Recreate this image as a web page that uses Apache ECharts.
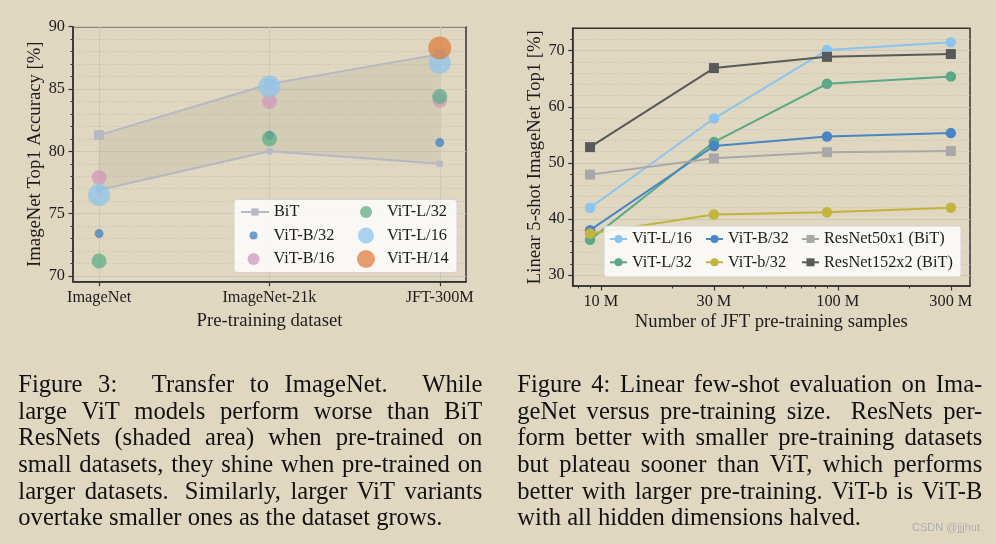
<!DOCTYPE html>
<html><head><meta charset="utf-8">
<script src="https://cdn.jsdelivr.net/npm/echarts@6.0.0/dist/echarts.min.js"></script>
<style>html,body{margin:0;padding:0;background:#dfd7bf;}#c{width:996px;height:544px;}</style>
</head><body><div id="c"></div><script>
// ---------- Figure 3 data ----------
const datasets = ['ImageNet', 'ImageNet-21k', 'JFT-300M'];
const bitUpper = [81.3, 85.4, 87.8];
const bitLower = [76.9, 80.0, 79.0];
const vitB32 = [73.4, 81.3, 80.7];
const vitB16 = [77.9, 84.0, 84.1];
const vitL32 = [71.2, 81.0, 84.4];
const vitL16 = [76.5, 85.2, 87.1];
const vitH14 = [null, null, 88.3];
const fig3YTicks = [70, 75, 80, 85, 90];
const fig3YMinor = [71, 72, 73, 74, 76, 77, 78, 79, 81, 82, 83, 84, 86, 87, 88, 89];

// ---------- Figure 4 data ----------
const samplesM = [9, 30, 90, 300];
const fig4XTicks = [10, 30, 100, 300];
const fig4XLabels = ['10 M', '30 M', '100 M', '300 M'];
const fig4XMinor = [8, 9, 20, 40, 50, 60, 70, 80, 90, 200];
const fig4YTicks = [30, 40, 50, 60, 70];
const fig4YMinor = [32, 34, 36, 38, 42, 44, 46, 48, 52, 54, 56, 58, 62, 64, 66, 68, 72];
const fsL16 = [42.0, 57.9, 70.1, 71.5];
const fsL32 = [36.3, 53.7, 64.1, 65.4];
const fsB32 = [38.0, 53.0, 54.7, 55.3];
const fsb32 = [37.4, 40.8, 41.2, 42.0];
const fsR50 = [47.9, 50.8, 51.9, 52.1];
const fsR152 = [52.8, 66.9, 68.9, 69.4];

// ---------- captions ----------
const caption3 = [
  'Figure 3:  Transfer to ImageNet.  While',
  'large ViT models perform worse than BiT',
  'ResNets (shaded area) when pre-trained on',
  'small datasets, they shine when pre-trained on',
  'larger datasets.  Similarly, larger ViT variants',
  'overtake smaller ones as the dataset grows.'
];
const caption4 = [
  'Figure 4: Linear few-shot evaluation on Ima-',
  'geNet versus pre-training size.  ResNets per-',
  'form better with smaller pre-training datasets',
  'but plateau sooner than ViT, which performs',
  'better with larger pre-training. ViT-b is ViT-B',
  'with all hidden dimensions halved.'
];

const FONT = "'Liberation Serif', 'Times New Roman', serif";
const TXT = '#1c1c1c';
const AX = '#333333';
const MAJ = '#cbc7b9';
const MIN = '#c6c0ab';
const SUFFIX = '\u200b4'; // keeps Figure 4 series names distinct from Figure 3 ones
const cleanName = n => n.split('\u200b')[0];

const catPts = arr => arr.map((v, i) => [i, v]).filter(p => p[1] != null);
const logPts = arr => arr.map((v, i) => [Math.log10(samplesM[i]), v]);

function axisBase(extra) {
  return Object.assign({
    type: 'value',
    axisLine: {show: true, onZero: false, lineStyle: {color: AX, width: 1.5}},
    axisTick: {show: true, inside: false, length: 4.5, lineStyle: {color: AX, width: 1.2}},
    axisLabel: {color: TXT, fontFamily: FONT, fontSize: 16.3, margin: 7},
    splitLine: {show: false},
    nameTextStyle: {color: TXT, fontFamily: FONT, fontSize: 18.7},
    nameLocation: 'middle'
  }, extra);
}

const scatterDefs = [
  {name: 'ViT-B/32', data: vitB32, color: '#3f7fbf', size: 9},
  {name: 'ViT-B/16', data: vitB16, color: '#d198bb', size: 15},
  {name: 'ViT-L/32', data: vitL32, color: '#5fae87', size: 15},
  {name: 'ViT-L/16', data: vitL16, color: '#8fc4ec', size: 22},
  {name: 'ViT-H/14', data: vitH14, color: '#dd7f40', size: 23}
];

const series = [];
// shaded area between the BiT curves, drawn through the axes' scales
series.push({type: 'custom', xAxisIndex: 0, yAxisIndex: 0, silent: true, z: 1,
  data: catPts(bitUpper),
  renderItem: function (params, api) {
    if (params.dataIndex !== 0) return null;
    const pts = [];
    bitUpper.forEach((v, i) => pts.push(api.coord([i, v])));
    for (let i = bitLower.length - 1; i >= 0; i--) pts.push(api.coord([i, bitLower[i]]));
    return {type: 'polygon', shape: {points: pts}, style: {fill: 'rgba(150,145,130,0.15)', stroke: 'none'}};
  }});
series.push({type: 'line', name: 'BiT', xAxisIndex: 0, yAxisIndex: 0, data: catPts(bitUpper),
  symbol: 'rect', symbolSize: 10, itemStyle: {color: '#b6b8c4'}, lineStyle: {color: '#b6b8c4', width: 2}, z: 2});
series.push({type: 'line', name: 'BiT', xAxisIndex: 0, yAxisIndex: 0, data: catPts(bitLower),
  symbol: 'rect', symbolSize: 6, itemStyle: {color: '#b6b8c4'}, lineStyle: {color: '#b6b8c4', width: 2}, z: 2});
scatterDefs.forEach(d => series.push({type: 'scatter', name: d.name, xAxisIndex: 0, yAxisIndex: 0,
  data: catPts(d.data), symbolSize: d.size, itemStyle: {color: d.color, opacity: 0.75}, z: 3}));

const lineDefs = [
  {name: 'ViT-L/16', data: fsL16, color: '#8cc4ee', sym: 'circle'},
  {name: 'ViT-L/32', data: fsL32, color: '#5aa886', sym: 'circle'},
  {name: 'ViT-B/32', data: fsB32, color: '#4a85c4', sym: 'circle'},
  {name: 'ViT-b/32', data: fsb32, color: '#c2b43e', sym: 'circle'},
  {name: 'ResNet50x1 (BiT)', data: fsR50, color: '#a8a8a8', sym: 'rect'},
  {name: 'ResNet152x2 (BiT)', data: fsR152, color: '#595959', sym: 'rect'}
];
lineDefs.forEach(d => series.push({type: 'line', name: d.name + SUFFIX, xAxisIndex: 1, yAxisIndex: 2,
  data: logPts(d.data), symbol: d.sym, symbolSize: d.sym === 'rect' ? 10 : 10.5,
  itemStyle: {color: d.color, opacity: 1}, lineStyle: {color: d.color, width: 2}, z: 3}));

// legends
const legText = {color: TXT, fontFamily: FONT, fontSize: 16.3, lineHeight: 20};
function leg(names, left, top, w, h, gap) {
  return {data: names, left: left, top: top, orient: 'vertical', itemWidth: w, itemHeight: h,
    itemGap: gap || 0, padding: 0, selectedMode: false, textStyle: legText, z: 20, formatter: cleanName};
}
// circle icons: bounding box starts at circle's left edge, text at centre + w/2 + 5
const legends = [
  leg(['BiT'], 240, 202, 28, 9),
  leg(['ViT-B/32'], 253.5 - 4, 225.5, 30, 8),
  leg(['ViT-B/16'], 253.5 - 6, 249, 30, 12),
  leg(['ViT-L/32'], 366 - 6, 202, 32, 12),
  leg(['ViT-L/16'], 366 - 8, 225.5, 32, 16),
  leg(['ViT-H/14'], 366 - 9, 249, 32, 18),
  leg(['ViT-L/16' + SUFFIX, 'ViT-L/32' + SUFFIX], 609, 229, 17, 10, 3.3),
  leg(['ViT-B/32' + SUFFIX, 'ViT-b/32' + SUFFIX], 705, 229, 17, 10, 3.3),
  leg(['ResNet50x1 (BiT)' + SUFFIX, 'ResNet152x2 (BiT)' + SUFFIX], 801, 229, 17, 10, 3.3)
];

// caption layout (justified lines)
const measureCtx = document.createElement('canvas').getContext('2d');
function captionEls(lines, x0, x1, y0, dy, size) {
  measureCtx.font = size + "px 'Liberation Serif'";
  const spaceW = measureCtx.measureText(' ').width;
  const out = [];
  lines.forEach((line, li) => {
    const tokens = line.split(' ');
    const words = [], weights = [];
    let w = 1;
    tokens.forEach(t => {
      if (t === '') { w = 3; return; }
      if (words.length) weights.push(w);
      words.push(t); w = 1;
    });
    const widths = words.map(t => measureCtx.measureText(t).width);
    const total = widths.reduce((a, b) => a + b, 0) + spaceW * weights.length;
    const last = li === lines.length - 1;
    const wsum = weights.reduce((a, b) => a + b, 0);
    const k = (!last && wsum > 0) ? ((x1 - x0) - total) / wsum : 0;
    let x = x0;
    words.forEach((t, i) => {
      out.push({type: 'text', x: x, y: y0 + li * dy, z: 30,
        style: {text: t, fill: '#111111', fontFamily: FONT, fontSize: size, verticalAlign: 'middle', align: 'left'}});
      if (i < weights.length) x += widths[i] + spaceW + weights[i] * k;
    });
  });
  return out;
}

const graphics = [
  {type: 'rect', z: 10, shape: {x: 234, y: 199.5, width: 223, height: 73, r: 3},
    style: {fill: 'rgba(255,255,255,0.82)', stroke: '#d2d2d2', lineWidth: 1}},
  {type: 'rect', z: 10, shape: {x: 604, y: 226, width: 357, height: 51, r: 3},
    style: {fill: 'rgba(255,255,255,0.82)', stroke: '#d2d2d2', lineWidth: 1}},
  {type: 'text', x: 946, y: 528, z: 30,
    style: {text: 'CSDN @jjjhut', fill: '#a7a6a2', fontFamily: "'Liberation Sans', Arial, sans-serif", fontSize: 11,
      align: 'center', verticalAlign: 'middle', textShadowColor: 'rgba(255,255,255,0.7)', textShadowBlur: 1}}
].concat(captionEls(caption3, 18.3, 482.3, 385.5, 26.7, 24.6))
 .concat(captionEls(caption4, 517.3, 982.3, 385.5, 26.7, 24.6));

const labelFor = v => {
  let best = 0;
  fig4XTicks.forEach((t, i) => { if (Math.abs(Math.log10(t) - v) < Math.abs(Math.log10(fig4XTicks[best]) - v)) best = i; });
  return fig4XLabels[best];
};

const option = {
  animation: false,
  backgroundColor: '#dfd7bf',
  grid: [
    {left: 73, top: 26.7, width: 393, height: 255, show: true, borderColor: AX, borderWidth: 1.5,
      backgroundColor: 'transparent', containLabel: false, outerBoundsMode: 'none'},
    {left: 572.7, top: 28.3, width: 397.3, height: 257.7, show: true, borderColor: AX, borderWidth: 1.5,
      backgroundColor: 'transparent', containLabel: false, outerBoundsMode: 'none'}
  ],
  xAxis: [
    axisBase({gridIndex: 0, position: 'bottom', min: -0.153, max: 2.154,
      name: 'Pre-training dataset', nameGap: 30,
      axisLabel: {color: TXT, fontFamily: FONT, fontSize: 16.3, margin: 8,
        customValues: [0, 1, 2], formatter: v => datasets[Math.round(v)]},
      axisTick: {show: true, length: 4.5, customValues: [0, 1, 2], lineStyle: {color: AX, width: 1.2}},
      splitLine: {show: true, lineStyle: {color: MAJ, width: 1}}}),
    axisBase({gridIndex: 1, position: 'bottom', min: 0.881, max: 2.558,
      name: 'Number of JFT pre-training samples', nameGap: 27,
      axisLabel: {color: TXT, fontFamily: FONT, fontSize: 16.3, margin: 8,
        customValues: fig4XTicks.map(Math.log10), formatter: labelFor},
      axisTick: {show: true, length: 4.5, customValues: fig4XTicks.map(Math.log10), lineStyle: {color: AX, width: 1.2}}}),
    axisBase({gridIndex: 1, position: 'bottom', min: 0.881, max: 2.558,
      axisLine: {show: false, onZero: false}, axisLabel: {show: false, customValues: fig4XMinor.map(Math.log10)},
      axisTick: {show: true, length: 2.5, customValues: fig4XMinor.map(Math.log10), lineStyle: {color: AX, width: 1}}})
  ],
  yAxis: [
    axisBase({gridIndex: 0, position: 'left', min: 69.54, max: 90,
      name: 'ImageNet Top1 Accuracy [%]', nameGap: 27,
      axisLabel: {color: TXT, fontFamily: FONT, fontSize: 16.3, margin: 8, customValues: fig3YTicks},
      axisTick: {show: true, length: 4.5, customValues: fig3YTicks, lineStyle: {color: AX, width: 1.2}},
      splitLine: {show: true, lineStyle: {color: MAJ, width: 1}}}),
    axisBase({gridIndex: 0, position: 'left', min: 69.54, max: 90,
      axisLine: {show: false, onZero: false}, axisLabel: {show: false, customValues: fig3YMinor},
      axisTick: {show: true, length: 2.5, customValues: fig3YMinor, lineStyle: {color: AX, width: 1}},
      splitLine: {show: true, lineStyle: {color: MIN, width: 1, type: [1, 2]}}}),
    axisBase({gridIndex: 1, position: 'left', min: 28.04, max: 73.99,
      name: 'Linear 5-shot ImageNet Top1 [%]', nameGap: 27,
      axisLabel: {color: TXT, fontFamily: FONT, fontSize: 16.3, margin: 8, customValues: fig4YTicks},
      axisTick: {show: true, length: 4.5, customValues: fig4YTicks, lineStyle: {color: AX, width: 1.2}},
      splitLine: {show: true, lineStyle: {color: MAJ, width: 1}}}),
    axisBase({gridIndex: 1, position: 'left', min: 28.04, max: 73.99,
      axisLine: {show: false, onZero: false}, axisLabel: {show: false, customValues: fig4YMinor},
      axisTick: {show: true, length: 2.5, customValues: fig4YMinor, lineStyle: {color: AX, width: 1}},
      splitLine: {show: true, lineStyle: {color: MIN, width: 1, type: [1, 2]}}})
  ],
  legend: legends,
  series: series,
  graphic: {elements: graphics}
};

const chart = echarts.init(document.getElementById('c'), null, {renderer: 'canvas'});
chart.setOption(option);
</script></body></html>
